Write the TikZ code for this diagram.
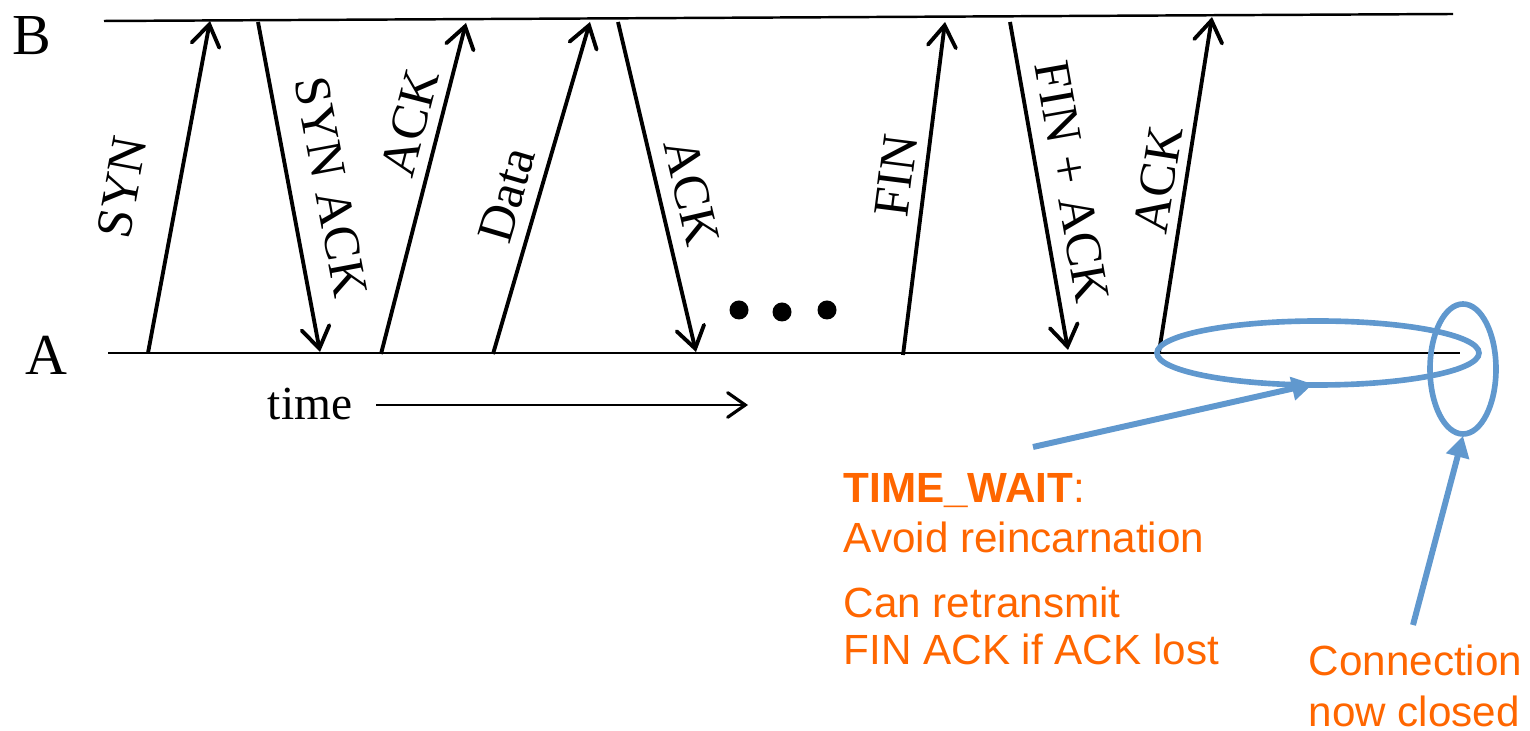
\documentclass[tikz,border=0pt]{standalone}
\usepackage{fontspec}
\setmainfont{Liberation Serif}
\newfontfamily\arialfont{Liberation Sans}
\usetikzlibrary{arrows.meta}
\definecolor{orng}{RGB}{255,102,0}
\definecolor{blu}{RGB}{96,152,206}
\tikzset{
  msg/.style={line width=1.1pt,-{Straight Barb[length=6pt,width=8pt,line width=1.1pt,line cap=round]}},
  axisline/.style={line width=0.7pt},
  lbl/.style={inner sep=0pt,font=\fontsize{14.5}{16}\selectfont},
  side/.style={inner sep=0pt,font=\fontsize{16.5}{18}\selectfont},
  note/.style={inner sep=0pt,anchor=base west,text=orng,font=\arialfont\fontsize{12}{14}\selectfont},
  bluearrow/.style={blu,line width=1.7pt,-{Triangle[length=6pt,width=6.5pt]}},
  blueloop/.style={blu,line width=1.6pt},
  dot/.style={circle,fill=black,inner sep=0pt,minimum size=0.19cm}
}
\begin{document}
\begin{tikzpicture}[x=0.01cm,y=-0.01cm]
\useasboundingbox (0,0) rectangle (1530,731);
% axes
\coordinate (b0) at (104,21);
\coordinate (b1) at (1453,14);
\coordinate (a0) at (108,353);
\coordinate (a1) at (1460,353);
\draw[axisline] (b0) -- (b1);
\draw[axisline] (a0) -- (a1);
\node[side,anchor=base] (B) at (32,55) {B};
\node[side,anchor=base] (A) at (46,375) {A};
% message endpoints
\coordinate (s1) at (148,353); \coordinate (e1) at (210,21);
\coordinate (s2) at (258,22);  \coordinate (e2) at (320,352);
\coordinate (s3) at (381,354); \coordinate (e3) at (466,23);
\coordinate (s4) at (493,354); \coordinate (e4) at (590,22);
\coordinate (s5) at (618,22);  \coordinate (e5) at (696,352);
\coordinate (s6) at (903,355); \coordinate (e6) at (945,22);
\coordinate (s7) at (1010,22); \coordinate (e7) at (1068,350);
\coordinate (s8) at (1159,352); \coordinate (e8) at (1212,17);
\draw[msg] (s1) -- (e1);
\draw[msg] (s2) -- (e2);
\draw[msg] (s3) -- (e3);
\draw[msg] (s4) -- (e4);
\draw[msg] (s5) -- (e5);
\draw[msg] (s6) -- (e6);
\draw[msg] (s7) -- (e7);
\draw[msg] (s8) -- (e8);
% labels
\node[lbl,rotate=79.5] (l1) at (122,187) {SYN};
\node[lbl,rotate=-79.4] (l2) at (331,187) {SYN ACK};
\node[lbl,rotate=75.5] (l3) at (410,123) {ACK};
\node[lbl,rotate=73.6] (l4) at (507,195) {Data};
\node[lbl,rotate=-76.9] (l5) at (692,192) {ACK};
\node[lbl,rotate=82.8] (l6) at (896,176) {FIN};
\node[lbl,rotate=-80] (l7) at (1072,182) {FIN + ACK};
\node[lbl,rotate=81] (l8) at (1158,180) {ACK};
% dots
\node[dot] (d1) at (739,310) {};
\node[dot] (d2) at (782,312) {};
\node[dot] (d3) at (827,310) {};
% time
\node[inner sep=0pt,anchor=base,font=\fontsize{13.5}{15}\selectfont] (time) at (310,420) {time};
\coordinate (t0) at (376,405);
\coordinate (t1) at (748,405);
\draw[line width=0.8pt,-{Straight Barb[length=5pt,width=7pt,line width=0.9pt,line cap=round]}] (t0) -- (t1);
% ellipses
\draw[blueloop] (1318,353) ellipse [x radius=161, y radius=32];
\draw[blueloop] (1463,369) ellipse [x radius=33, y radius=65];
\coordinate (tw) at (1313,384);
\coordinate (cc) at (1463,436);
\coordinate (twfrom) at (1033,447);
\coordinate (ccfrom) at (1413,625);
\draw[bluearrow] (twfrom) -- (tw);
\draw[bluearrow] (ccfrom) -- (cc);
% notes
\node[note] (n1) at (843,503) {\textbf{TIME\_WAIT}:};
\node[note] (n2) at (843,553) {Avoid reincarnation};
\node[note] (n3) at (843,618) {Can retransmit};
\node[note] (n4) at (843,665) {FIN ACK if ACK lost};
\node[note] (n5) at (1308,676) {Connection};
\node[note] (n6) at (1308,727) {now closed};
\end{tikzpicture}
\end{document}
